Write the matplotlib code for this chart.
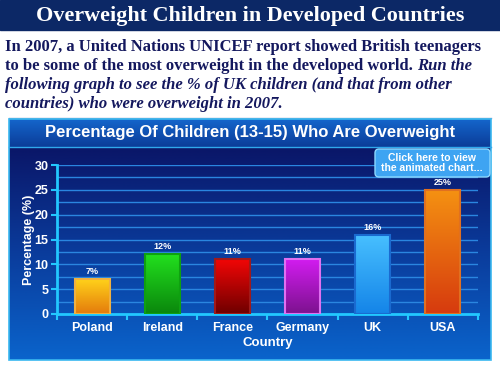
import numpy as np
import matplotlib
matplotlib.use("Agg")
import matplotlib.pyplot as plt
from matplotlib.colors import LinearSegmentedColormap
from matplotlib.patches import Rectangle, FancyBboxPatch

countries = ["Poland", "Ireland", "France", "Germany", "UK", "USA"]
values = [7, 12, 11, 11, 16, 25]
value_labels = ["7%", "12%", "11%", "11%", "16%", "25%"]
yticks = [0, 5, 10, 15, 20, 25, 30]
# (top colour, bottom colour, edge colour) for each bar
bar_colors = [("#ffd21a", "#e47a0c", "#f0b040"),
              ("#22e01e", "#0a860c", "#0fa010"),
              ("#f20606", "#6e0000", "#a01a1a"),
              ("#d21cf0", "#7c128e", "#e070f0"),
              ("#48c0ff", "#1484e8", "#1a6ad0"),
              ("#f59212", "#d63a0e", "#e07020")]

fig = plt.figure(figsize=(5, 3.75), dpi=100)
fig.patch.set_facecolor("white")

bg = fig.add_axes([0, 0, 1, 1])
bg.set_xlim(0, 500)
bg.set_ylim(375, 0)
bg.axis("off")

# top banner
bg.add_patch(Rectangle((0, 0), 500, 30, color="#0c2866", zorder=1))
bg.text(250, 16, "Overweight Children in Developed Countries", color="white",
        fontsize=15.9, fontweight="bold", family="Liberation Serif",
        ha="center", va="center", zorder=2)

# paragraph
navy = "#14185e"
pkw = dict(color=navy, fontsize=12, fontweight="bold", family="Liberation Serif",
           va="center", ha="left")
bg.text(5, 47, "In 2007, a United Nations UNICEF report showed British teenagers", **pkw)
t2 = bg.text(5, 66, "to be some of the most overweight in the developed world. ", **pkw)
bg.annotate("Run the", xy=(1, 0), xycoords=t2, va="bottom", ha="left",
            color=navy, fontsize=12, fontweight="bold", fontstyle="italic",
            family="Liberation Serif")
bg.text(5, 85, "following graph to see the % of UK children (and that from other",
        fontstyle="italic", **pkw)
bg.text(5, 104, "countries) who were overweight in 2007.", fontstyle="italic", **pkw)

bg.plot([9, 491], [118, 118], color="#8aa8cc", lw=1, zorder=1)

# chart panel with gradient
panel_cmap = LinearSegmentedColormap.from_list("panel", ["#0a1668", "#0a3c9c", "#0a64cc"])
grad = np.linspace(0, 1, 256).reshape(-1, 1)
bg.imshow(grad, cmap=panel_cmap, extent=(9, 491, 360, 147), aspect="auto", zorder=1)
head_cmap = LinearSegmentedColormap.from_list("head", ["#1466cc", "#0b3c98"])
bg.imshow(grad, cmap=head_cmap, extent=(9, 491, 147, 119), aspect="auto", zorder=1)
bg.add_patch(Rectangle((9, 119), 482, 241, fill=False, edgecolor="#3ab8f0", lw=1.2, zorder=3))
bg.plot([9, 491], [147, 147], color="#30a8ec", lw=1, zorder=3)
bg.set_xlim(0, 500)
bg.set_ylim(375, 0)
bg.text(250, 133, "Percentage Of Children (13-15) Who Are Overweight", color="white",
        fontsize=12, fontweight="bold", family="Liberation Sans",
        ha="center", va="center", zorder=4)

# plot axes
ax = fig.add_axes([57 / 500, (375 - 314) / 375, 421 / 500, 149 / 375])
ax.patch.set_alpha(0)
x = np.arange(len(countries))
for g in np.arange(2.5, 30.1, 2.5):
    ax.axhline(g, color="#2a86e0", lw=1, zorder=1)
bars = ax.bar(x, values, width=0.5, color="none", zorder=3)
for b, (top, bot, edge), v in zip(bars, bar_colors, values):
    cm = LinearSegmentedColormap.from_list("b", [top, bot])
    im = ax.imshow(grad, cmap=cm, extent=(b.get_x(), b.get_x() + b.get_width(), 0, v),
                   aspect="auto", zorder=2, origin="upper")
    im.set_clip_path(b)
    b.set_edgecolor(edge)
    b.set_linewidth(1.5)
for xi, v, lab in zip(x, values, value_labels):
    ax.text(xi, v + 0.6, lab, color="white", fontsize=6.5, fontweight="bold",
            family="Liberation Sans", ha="center", va="bottom", zorder=4)

ax.set_xlim(-0.5, 5.5)
ax.set_ylim(0, 30)
ax.set_yticks(yticks)
ax.set_yticklabels([str(t) for t in yticks], color="white", fontsize=9,
                   fontweight="bold", family="Liberation Sans")
ax.set_xticks(x)
ax.set_xticklabels(countries, color="white", fontsize=9, fontweight="bold",
                   family="Liberation Sans")
ax.set_xticks(np.arange(-0.5, 5.6, 1), minor=True)
ax.tick_params(axis="x", which="major", length=0, pad=6)
ax.tick_params(axis="x", which="minor", length=4, color="#22c8ff", width=1.5, direction="out")
ax.tick_params(axis="y", length=4, color="#22c8ff", width=1.5, pad=2)
for s in ["top", "right"]:
    ax.spines[s].set_visible(False)
ax.spines["left"].set_color("#22c8ff")
ax.spines["bottom"].set_color("#22c8ff")
ax.spines["left"].set_linewidth(2)
ax.spines["bottom"].set_linewidth(2)
ax.set_xlabel("Country", color="white", fontsize=9.5, fontweight="bold",
              family="Liberation Sans", labelpad=2)
ax.set_ylabel("Percentage (%)", color="white", fontsize=9, fontweight="bold",
              family="Liberation Sans")
ax.yaxis.set_label_coords(-22 / 421, 0.5)

# button on top of everything
ov = fig.add_axes([0, 0, 1, 1])
ov.set_xlim(0, 500)
ov.set_ylim(375, 0)
ov.axis("off")
ov.add_patch(FancyBboxPatch((375, 149), 115, 28, boxstyle="round,pad=0,rounding_size=4",
                            facecolor="#3ea4f2", edgecolor="#8cd8ff", lw=1))
ov.text(432, 163, "Click here to view\nthe animated chart...", color="white",
        fontsize=7.5, fontweight="bold", family="Liberation Sans",
        ha="center", va="center", linespacing=1.1)

fig.savefig("out.png", dpi=100)
